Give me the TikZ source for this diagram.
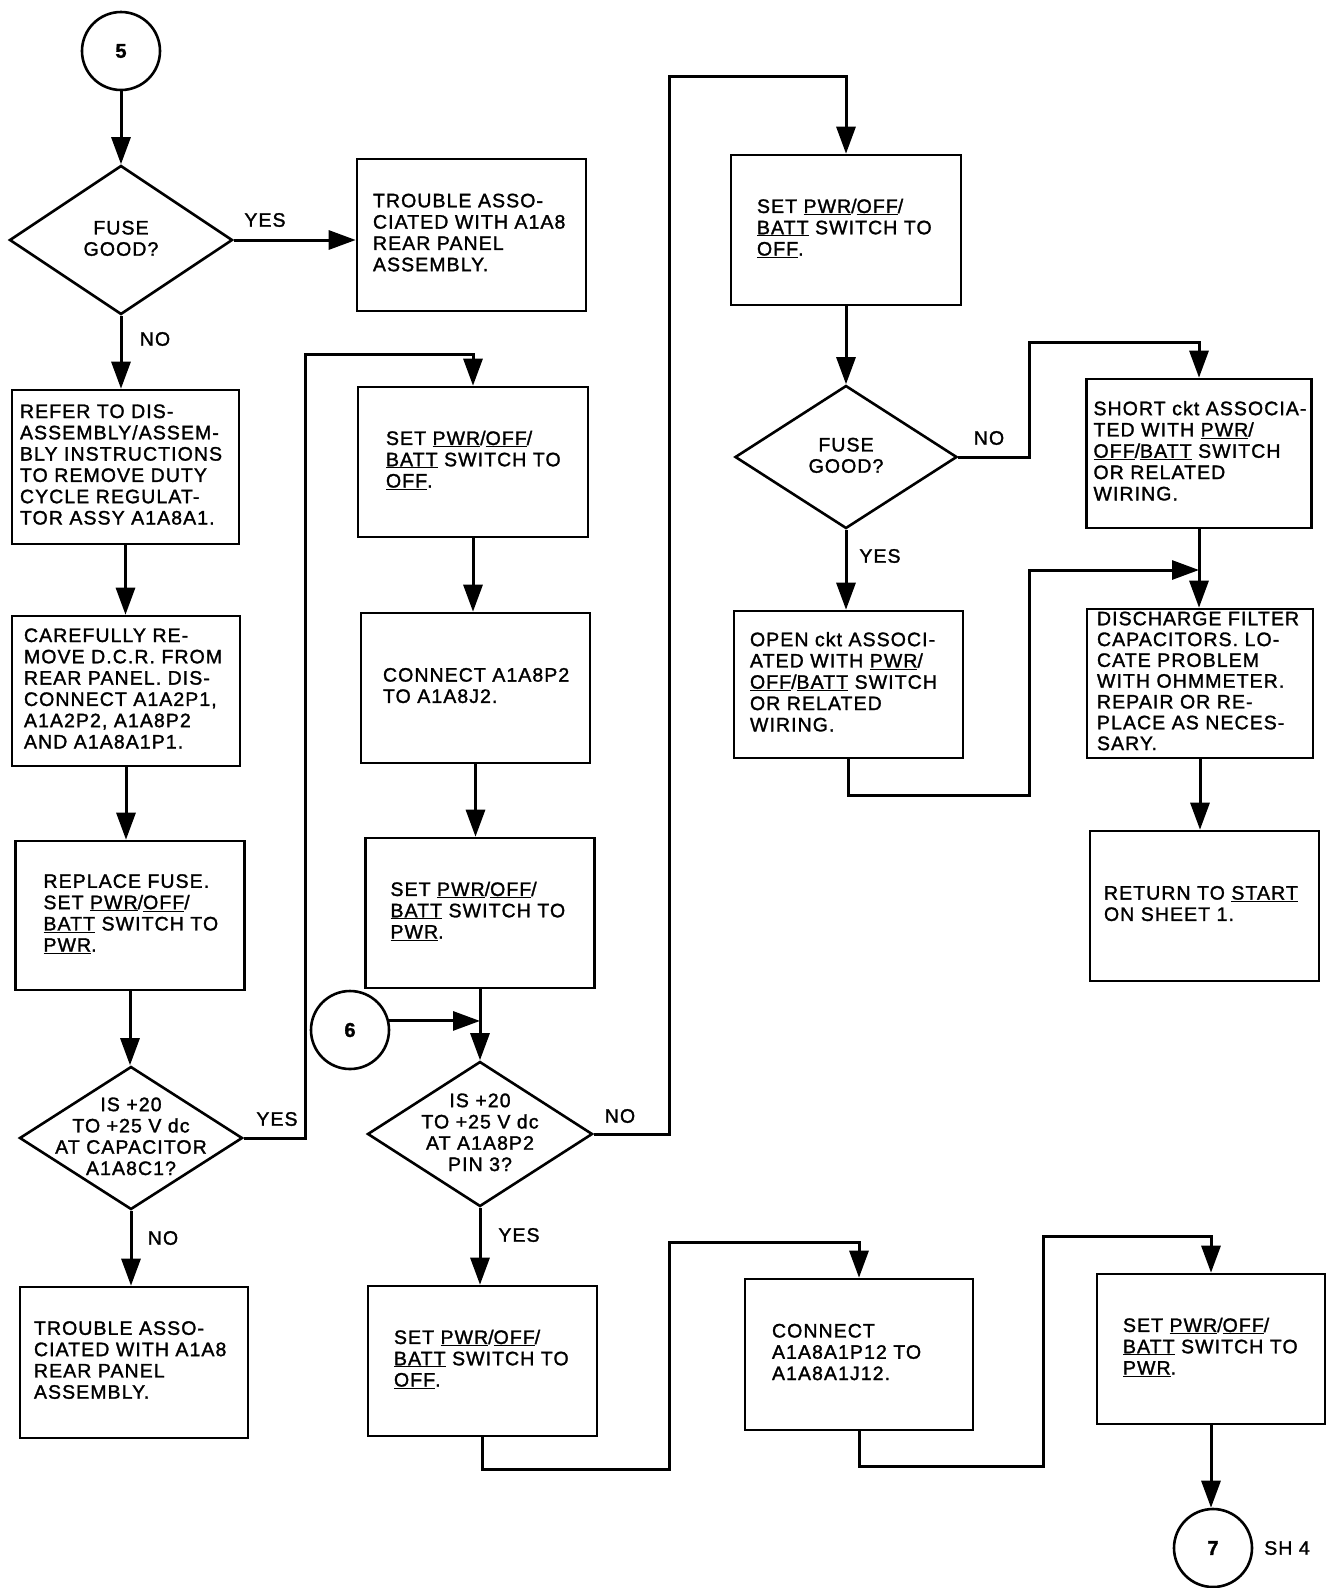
\documentclass[tikz,border=0pt]{standalone}
\usepackage{fontspec}
\setmainfont{Liberation Sans}[LetterSpace=5.5, FakeBold=1.5]
\usetikzlibrary{arrows.meta,shapes.geometric}
\newcommand\dtext[1]{\smash{\raisebox{-6pt}{\makebox[0pt]{\begin{tabular}{@{}c@{}}#1\end{tabular}}}}}
\newcommand\btxt[1]{\begin{tabular}{@{}l@{}}#1\end{tabular}}
\newcommand\uln[1]{\underline{#1}}
\begin{document}
\begin{tikzpicture}[x=1pt,y=-1pt,
  every node/.style={font=\fontsize{19.5}{21.3}\selectfont},
  box/.style={draw, line width=2.6pt, align=left, inner ysep=0pt},
  dia/.style={draw, diamond, line width=2.6pt, inner sep=0pt},
  circ/.style={draw, circle, line width=2.6pt, minimum size=78pt, inner sep=0pt, font=\fontsize{20}{22}\selectfont\bfseries},
  lbl/.style={inner sep=0pt},
  conn/.style={line width=3pt, -{Triangle[length=27pt,width=19pt]}},
]
\useasboundingbox (0,0) rectangle (1326,1588);

% column 1
\node[circ] (c5) at (121,51) {5};
\node[dia, minimum width=223pt, minimum height=149pt] (d1) at (121,240) {\dtext{FUSE\\GOOD?}};
\node[box, text width=197pt, inner xsep=16pt, minimum height=152pt] (t1) at (471.5,235)
  {\btxt{TROUBLE ASSO-\\CIATED WITH A1A8\\REAR PANEL\\ASSEMBLY.}};
\node[box, text width=211pt, inner xsep=8pt, minimum height=154pt] (refer) at (125.5,467)
  {\btxt{REFER TO DIS-\\ASSEMBLY/ASSEM-\\BLY INSTRUCTIONS\\TO REMOVE DUTY\\CYCLE REGULAT-\\TOR ASSY A1A8A1.}};
\node[box, text width=204pt, inner xsep=12pt, minimum height=150pt] (care) at (126,691)
  {\btxt{CAREFULLY RE-\\MOVE D.C.R. FROM\\REAR PANEL. DIS-\\CONNECT A1A2P1,\\A1A2P2, A1A8P2\\AND A1A8A1P1.}};
\node[box, text width=173pt, inner xsep=28pt, minimum height=149pt] (repl) at (130,915.5)
  {\btxt{REPLACE FUSE.\\SET \uln{PWR}/\uln{OFF}/\\\uln{BATT} SWITCH TO\\\uln{PWR}.}};
\node[dia, minimum width=223pt, minimum height=143pt] (d2) at (131,1138)
  {\dtext{IS +20\\TO +25 V dc\\AT CAPACITOR\\A1A8C1?}};
\node[box, text width=200pt, inner xsep=14pt, minimum height=151pt] (t2) at (134,1362.5)
  {\btxt{TROUBLE ASSO-\\CIATED WITH A1A8\\REAR PANEL\\ASSEMBLY.}};

% column 2
\node[box, text width=174pt, inner xsep=28pt, minimum height=150pt] (soff1) at (473,462)
  {\btxt{SET \uln{PWR}/\uln{OFF}/\\\uln{BATT} SWITCH TO\\\uln{OFF}.}};
\node[box, text width=185pt, inner xsep=22pt, minimum height=150pt] (conn1) at (475.5,688)
  {\btxt{CONNECT A1A8P2\\TO A1A8J2.}};
\node[box, text width=179pt, inner xsep=25pt, minimum height=150pt] (spwr1) at (480,913)
  {\btxt{SET \uln{PWR}/\uln{OFF}/\\\uln{BATT} SWITCH TO\\\uln{PWR}.}};
\node[circ] (c6) at (350,1030) {6};
\node[dia, minimum width=225pt, minimum height=145pt] (d3) at (480,1134)
  {\dtext{IS +20\\TO +25 V dc\\AT A1A8P2\\PIN 3?}};
\node[box, text width=177pt, inner xsep=26pt, minimum height=150pt] (soff3) at (482.5,1361)
  {\btxt{SET \uln{PWR}/\uln{OFF}/\\\uln{BATT} SWITCH TO\\\uln{OFF}.}};

% column 3
\node[box, text width=178pt, inner xsep=26pt, minimum height=150pt] (soff2) at (846,230)
  {\btxt{SET \uln{PWR}/\uln{OFF}/\\\uln{BATT} SWITCH TO\\\uln{OFF}.}};
\node[dia, minimum width=222pt, minimum height=143pt] (d4) at (846,457) {\dtext{FUSE\\GOOD?}};
\node[box, text width=197pt, inner xsep=16pt, minimum height=147pt] (open) at (848.5,684.5)
  {\btxt{OPEN ckt ASSOCI-\\ATED WITH \uln{PWR}/\\\uln{OFF}/\uln{BATT} SWITCH\\OR RELATED\\WIRING.}};
\node[box, text width=211pt, inner xsep=7pt, minimum height=149pt] (short) at (1199,453.5)
  {\btxt{SHORT ckt ASSOCIA-\\TED WITH \uln{PWR}/\\\uln{OFF}/\uln{BATT} SWITCH\\OR RELATED\\WIRING.}};
\node[box, text width=206pt, inner xsep=10pt, minimum height=149pt,
      font=\fontsize{19.5}{20.8}\selectfont] (disch) at (1200,683.5)
  {\btxt{DISCHARGE FILTER\\CAPACITORS. LO-\\CATE PROBLEM\\WITH OHMMETER.\\REPAIR OR RE-\\PLACE AS NECES-\\SARY.}};
\node[box, text width=201pt, inner xsep=14pt, minimum height=150pt] (ret) at (1204.5,906)
  {\btxt{RETURN TO \uln{START}\\ON SHEET 1.}};

% bottom row
\node[box, text width=174pt, inner xsep=27pt, minimum height=151pt] (conn2) at (859,1354.5)
  {\btxt{CONNECT\\A1A8A1P12 TO\\A1A8A1J12.}};
\node[box, text width=176pt, inner xsep=26pt, minimum height=150pt] (spwr2) at (1211,1349)
  {\btxt{SET \uln{PWR}/\uln{OFF}/\\\uln{BATT} SWITCH TO\\\uln{PWR}.}};
\node[circ] (c7) at (1213,1548) {7};
\node[lbl] (sh4) at (1287,1548) {SH 4};

% labels
\node[lbl] (yes1) at (265,220) {YES};
\node[lbl] (no1) at (155,339) {NO};
\node[lbl] (yes2) at (277,1119) {YES};
\node[lbl] (no2) at (163,1238) {NO};
\node[lbl] (no3) at (620,1116) {NO};
\node[lbl] (yes3) at (519,1235) {YES};
\node[lbl] (no4) at (989,438) {NO};
\node[lbl] (yes4) at (880,556) {YES};

% waypoints
\coordinate (w1) at (305,354);
\coordinate (w2) at (669,76);
\coordinate (w3) at (1029,342);
\coordinate (w4) at (854,795);
\coordinate (w5) at (1029,570);
\coordinate (w6) at (483,1469);
\coordinate (w7) at (669,1242);
\coordinate (w8) at (861,1466);
\coordinate (w9) at (1043,1236);

% connectors
\draw[conn] (c5.south) -- (c5.south |- d1.north);
\draw[conn] (d1.east) -- (d1.east -| t1.west);
\draw[conn] (d1.south) -- (d1.south |- refer.north);
\draw[conn] (refer.south) -- (refer.south |- care.north);
\draw[conn] (care.south) -- (care.south |- repl.north);
\draw[conn] (repl.south) -- (repl.south |- d2.north);
\draw[conn] (d2.south) -- (d2.south |- t2.north);
\draw[conn] (d2.east) -| (w1) -| (soff1.north);
\draw[conn] (soff1.south) -- (soff1.south |- conn1.north);
\draw[conn] (conn1.south) -- (conn1.south |- spwr1.north);
\draw[conn] (spwr1.south) -- (spwr1.south |- d3.north);
\draw[conn] (c6.13) -- (c6.13 -| d3.north);
\draw[conn] (d3.east) -| (w2) -| (soff2.north);
\draw[conn] (d3.south) -- (d3.south |- soff3.north);
\draw[conn] (soff2.south) -- (soff2.south |- d4.north);
\draw[conn] (d4.east) -| (w3) -| (short.north);
\draw[conn] (d4.south) -- (d4.south |- open.north);
\draw[conn] (open.south) -- (open.south |- w4) -| (w5) -- (w5 -| short.south);
\draw[conn] (short.south) -- (short.south |- disch.north);
\draw[conn] (disch.south) -- (disch.south |- ret.north);
\draw[conn] (soff3.south) |- (w6) -| (w7) -| (conn2.north);
\draw[conn] (conn2.south) |- (w8) -| (w9) -| (spwr2.north);
\draw[conn] (spwr2.south) -- (spwr2.south |- c7.north);
\end{tikzpicture}
\end{document}
